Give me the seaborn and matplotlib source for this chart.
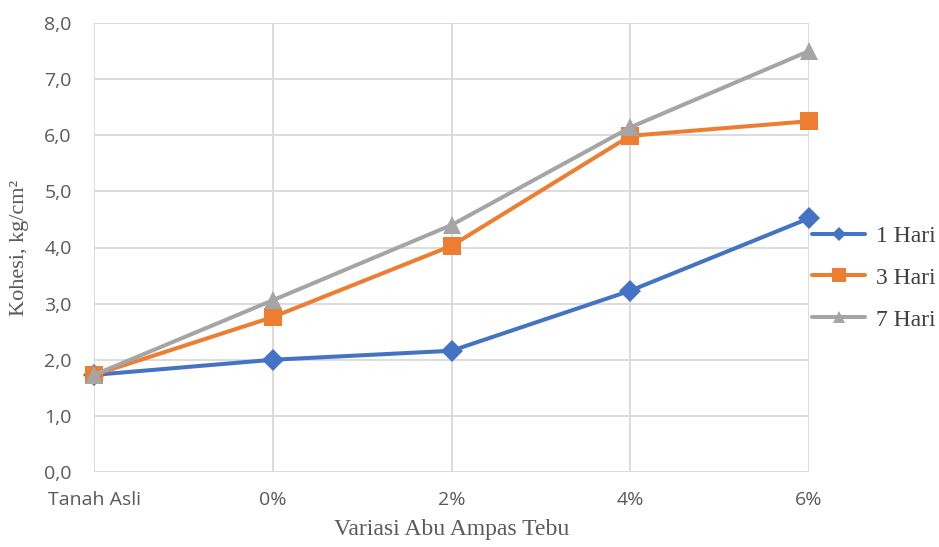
import matplotlib
matplotlib.use("Agg")
import matplotlib.pyplot as plt
import seaborn as sns
import pandas as pd

categories = ["Tanah Asli", "0%", "2%", "4%", "6%"]
hari1 = [1.73, 2.00, 2.16, 3.23, 4.52]
hari3 = [1.73, 2.76, 4.03, 5.99, 6.25]
hari7 = [1.73, 3.06, 4.40, 6.14, 7.50]
series_names = ["1 Hari", "3 Hari", "7 Hari"]
yticks = [0, 1, 2, 3, 4, 5, 6, 7, 8]
ytick_labels = ["0,0", "1,0", "2,0", "3,0", "4,0", "5,0", "6,0", "7,0", "8,0"]

sns.set_theme(style="white")
tick_font = ["Open Sans", "DejaVu Sans"]
serif_font = ["Liberation Serif", "DejaVu Serif"]

fig = plt.figure(figsize=(9.39, 5.47), dpi=100)
ax = fig.add_axes([94/939, 1-472/547, (809-94)/939, (472-23)/547])

colors = ["#4472C4", "#ED7D31", "#A5A5A5"]
markers = ["D", "s", "^"]
msizes = [11.5, 13, 13]
leg_msizes = [7.5, 10, 9]
x_idx = list(range(len(categories)))
handles = []
for name, vals, c, m, ms in zip(series_names, [hari1, hari3, hari7], colors, markers, msizes):
    df = pd.DataFrame({"x": x_idx, "y": vals})
    sns.lineplot(data=df, x="x", y="y", ax=ax, color=c, marker=m, markersize=ms,
                 markeredgecolor=c, markeredgewidth=0, linewidth=2.9, label=name,
                 zorder=3, legend=False)
    handles.append(ax.lines[-1])

ax.set_xlim(0, 4)
ax.set_ylim(0, 8)
ax.set_xticks(x_idx)
ax.set_xticklabels(categories, family=tick_font, fontsize=14, color="#595959")
ax.set_yticks(yticks)
ax.set_yticklabels(ytick_labels, family=tick_font, fontsize=14, color="#595959")
ax.tick_params(axis="y", length=0, pad=16)
ax.tick_params(axis="x", length=0, pad=14)
ax.grid(True, color="#D9D9D9", linewidth=1.3)
ax.set_axisbelow(True)
for s in ax.spines.values():
    s.set_visible(False)
for ln in ax.lines:
    ln.set_clip_on(False)

ax.set_xlabel("Variasi Abu Ampas Tebu", family=serif_font, fontsize=17, color="#595959")
ax.set_ylabel("Kohesi, kg/cm²", family=serif_font, fontsize=16, color="#595959")
ax.xaxis.set_label_coords(0.5, -(530-472)/449, transform=ax.transAxes)
ax.xaxis.label.set_verticalalignment("center")
ax.yaxis.set_label_coords(-(94-20)/715, 0.5, transform=ax.transAxes)
ax.yaxis.label.set_verticalalignment("center")

leg = fig.legend(handles, series_names, loc="center left",
                 bbox_to_anchor=(812/939, 1-278/547), frameon=False,
                 prop={"family": serif_font, "size": 17}, handlelength=2.25,
                 labelspacing=0.86, handletextpad=0.47, borderpad=0,
                 borderaxespad=0, labelcolor="#404040")
for h, ms in zip(leg.legend_handles, leg_msizes):
    h.set_markersize(ms)

fig.savefig("out.png", dpi=100)
